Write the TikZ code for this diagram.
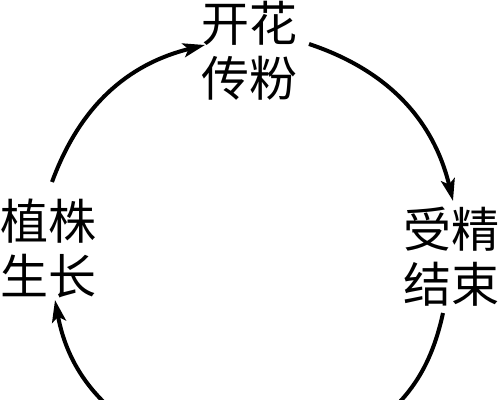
\documentclass[tikz,border=0pt]{standalone}
\usepackage{fontspec}
\newfontfamily\cjk{Noto Sans CJK SC}
\usetikzlibrary{arrows.meta}
\begin{document}
\begin{tikzpicture}[x=0.5pt,y=-0.5pt,
  lbl/.style={inner sep=0pt,align=center,font=\cjk\fontsize{24}{27.5}\selectfont},
  cyc/.style={line width=2pt,-{Stealth[length=11pt,width=7pt,inset=2.5pt]}}]
\useasboundingbox (0,0) rectangle (500,400);
\clip (0,0) rectangle (500,400);
\node[lbl] (top) at (250,51) {开花\\传粉};
\node[lbl] (left) at (49,249) {植株\\生长};
\node[lbl] (right) at (452,257) {受精\\结束};
\coordinate (a1s) at (52,182);
\coordinate (a1e) at (205,45);
\coordinate (a2s) at (309,44);
\coordinate (a2e) at (453,201);
\coordinate (a3s) at (443,313);
\coordinate (a3e) at (350,440);
\coordinate (a4s) at (155,440);
\coordinate (a4e) at (55,300);
\draw[cyc] (a1s) to[bend left=28] (a1e);
\draw[cyc] (a2s) to[bend left=29] (a2e);
\draw[line width=2pt] (a3s) to[bend left=24] (a3e);
\draw[cyc] (a4s) to[bend left=25] (a4e);
\end{tikzpicture}
\end{document}
